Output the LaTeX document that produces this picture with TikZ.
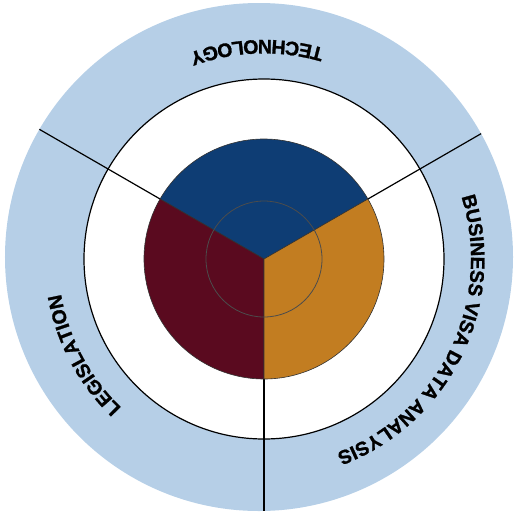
\documentclass[tikz,border=0pt]{standalone}
\usepackage{fontspec}
\setmainfont{Liberation Sans}
\newfontfamily\heavyfont[FakeBold=1.3]{Liberation Sans Bold}
\usepackage{xcolor}
\usetikzlibrary{decorations.text}

\definecolor{ringblue}{HTML}{B6CFE7}
\definecolor{techblue}{HTML}{0E3D74}
\definecolor{legred}{HTML}{5A0A1F}
\definecolor{bizorange}{HTML}{C27D21}

\newcommand{\ringfont}{\heavyfont\fontsize{19.5}{19.5}\selectfont}

\tikzset{
  spoke/.style={line width=1.2pt, black},
  sector/.style={draw=black!80, line width=0.6pt},
  ringtext/.style={decorate, decoration={text along path, text align=center,
      text={#1}}}
}

\begin{document}
\ringfont
\begin{tikzpicture}[x=1pt, y=1pt]
    \useasboundingbox (-264,-256) rectangle (252,259);
    \coordinate (c) at (0,0);

    % Rings
    \fill[ringblue] (-5,2) circle (254);
    \fill[white] (c) circle (180);
    \draw[spoke] (c) circle (180);

    % Spokes
    \begin{scope}
        \clip (-5,2) circle (254);
        \foreach \a in {30,150,270}
            \draw[spoke] (c) -- (\a:280);
    \end{scope}

    % Sectors
    \filldraw[sector, fill=techblue] (c) -- (30:120) arc[start angle=30, end angle=150, radius=120] -- cycle;
    \filldraw[sector, fill=legred] (c) -- (150:120) arc[start angle=150, end angle=270, radius=120] -- cycle;
    \filldraw[sector, fill=bizorange] (c) -- (270:120) arc[start angle=270, end angle=390, radius=120] -- cycle;
    \draw[black!70, line width=0.8pt] (c) circle (58);

    % Labels
    \path[ringtext=TECHNOLOGY] (32:219) arc[start angle=32, end angle=152, radius=219];
    \path[ringtext=BUSINESS VISA DATA ANALYSIS] (20:207) arc[start angle=20, end angle=-72, radius=207];
    \path[ringtext=LEGISLATION] (250:206) arc[start angle=250, end angle=166, radius=206];

\end{tikzpicture}
\end{document}
